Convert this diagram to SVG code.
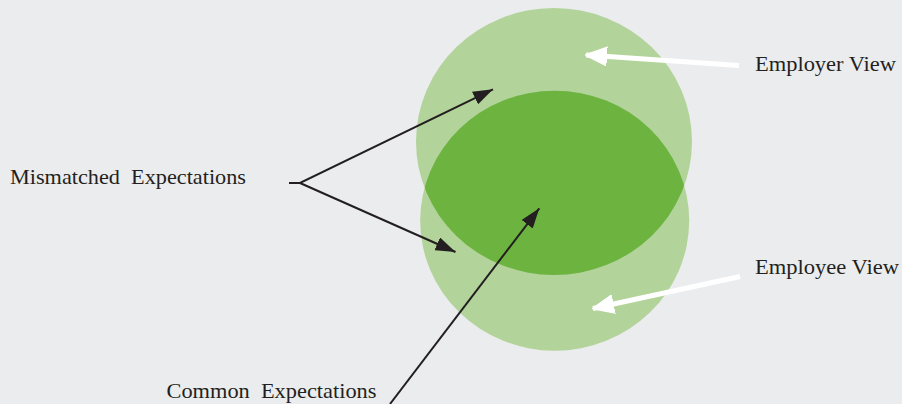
<svg xmlns="http://www.w3.org/2000/svg" width="902" height="404" viewBox="0 0 902 404">
<style>
.lbl{font-family:"Liberation Serif","Times New Roman",serif;font-size:22px;fill:#231f20}
.light{fill:#b2d399}
.dark{fill:#6db33f}
.blk{stroke:#231f20;stroke-width:2;fill:none}
.wht{stroke:#ffffff;stroke-width:5;fill:none}
</style>
<defs>
<marker id="ab" markerUnits="userSpaceOnUse" viewBox="0 0 20 14" refX="20" refY="7" markerWidth="20" markerHeight="14" orient="auto">
<path d="M0,0 L20,7 L0,14 Z" fill="#231f20"/>
</marker>
<marker id="aw" markerUnits="userSpaceOnUse" viewBox="0 0 22 20" refX="21" refY="10" markerWidth="22" markerHeight="20" orient="auto">
<path d="M0,1 L21,10 L0,19 Z" fill="#ffffff" stroke="#ffffff" stroke-width="2" stroke-linejoin="round"/>
</marker>
<clipPath id="clipTop"><ellipse cx="554" cy="141.5" rx="138" ry="133.5"/></clipPath>
</defs>
<rect width="902" height="404" fill="#ebecee"/>
<g id="employer-view-circle"><ellipse class="light" cx="554" cy="141.5" rx="138" ry="133.5"/></g>
<g id="employee-view-circle"><ellipse class="light" cx="554.7" cy="220.7" rx="134.5" ry="130"/></g>
<g id="common-overlap"><ellipse class="dark" cx="554.7" cy="220.7" rx="134.5" ry="130" clip-path="url(#clipTop)"/></g>
<g id="connectors">
<path class="blk" d="M289,183 H300 L493,89.3" marker-end="url(#ab)"/>
<path class="blk" d="M300,183 L455.5,252" marker-end="url(#ab)"/>
<path class="blk" d="M390,404 L539.3,208.3" marker-end="url(#ab)"/>
<path class="wht" d="M739,65.5 L586,55" marker-end="url(#aw)"/>
<path class="wht" d="M740,276.5 L593,308.5" marker-end="url(#aw)"/>
</g>
<g id="label-mismatched"><text class="lbl" x="10" y="184" textLength="236" lengthAdjust="spacingAndGlyphs" xml:space="preserve">Mismatched  Expectations</text></g>
<g id="label-common"><text class="lbl" x="166.5" y="398" textLength="210" lengthAdjust="spacingAndGlyphs" xml:space="preserve">Common  Expectations</text></g>
<g id="label-employer"><text class="lbl" x="755" y="71" textLength="141" lengthAdjust="spacingAndGlyphs">Employer View</text></g>
<g id="label-employee"><text class="lbl" x="755" y="274" textLength="144" lengthAdjust="spacingAndGlyphs">Employee View</text></g>
</svg>
